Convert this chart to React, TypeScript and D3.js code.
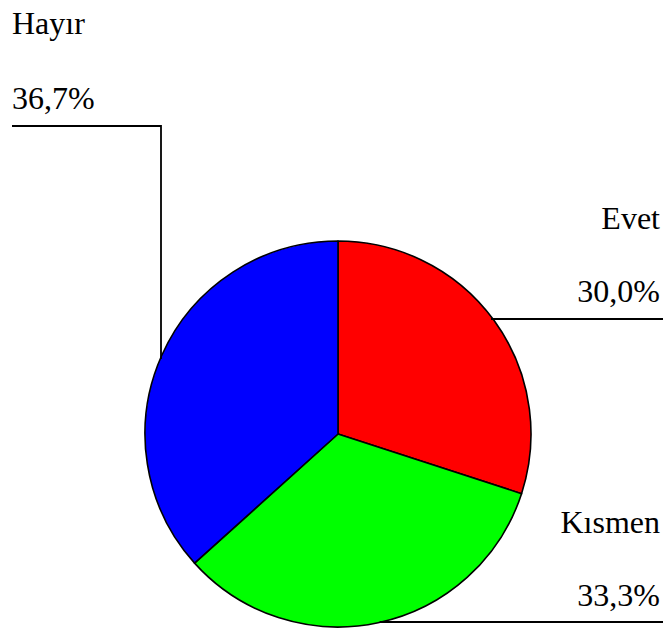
import React, { useEffect, useRef } from "react";
import * as d3 from "d3";

// answers and counts (n = 30)
const categories = ["Evet", "Kısmen", "Hayır"];
const counts = [9, 10, 11];
const colors = ["#FF0000", "#00FF00", "#0000FF"];

// label placement (outside the pie, with leader lines)
const labelLayout = [
  { anchor: "end", textX: 660, labelY: 229, valueY: 302, lineY: 319, lineEnd: 663 },
  { anchor: "end", textX: 660, labelY: 533, valueY: 606, lineY: 622, lineEnd: 663 },
  { anchor: "start", textX: 12, labelY: 34, valueY: 109, lineY: 126, elbowX: 161 },
];

const width = 665;
const height = 628;

const App = () => {
  const ref = useRef<SVGSVGElement | null>(null);

  useEffect(() => {
    const svg = d3.select(ref.current);
    svg.selectAll("*").remove();

    const cx = 338;
    const cy = 434;
    const r = 193;

    const total = d3.sum(counts);
    const trFormat = d3.formatLocale({
      decimal: ",",
      thousands: ".",
      grouping: [3],
      currency: ["₺", ""],
    }).format(".1%");

    const pie = d3.pie<number>().sort(null).startAngle(0).endAngle(2 * Math.PI);
    const arcs = pie(counts);
    const arc = d3.arc<d3.PieArcDatum<number>>().innerRadius(0).outerRadius(r);

    const g = svg.append("g").attr("transform", `translate(${cx},${cy})`);
    g.selectAll("path")
      .data(arcs)
      .join("path")
      .attr("d", arc)
      .attr("fill", (d, i) => colors[i])
      .attr("stroke", "#000")
      .attr("stroke-width", 1.6)
      .attr("stroke-linejoin", "round");

    // point on the rim at a given y (right side) or x (upper side)
    const rimX = (y: number) => {
      const dy = y - cy;
      return cx + Math.sqrt(Math.max(0, r * r - dy * dy));
    };
    const rimY = (x: number) => {
      const dx = x - cx;
      return cy - Math.sqrt(Math.max(0, r * r - dx * dx));
    };

    const labels = svg.append("g")
      .attr("style", "font-family: 'Liberation Serif', 'DejaVu Serif', serif; font-size: 32px;")
      .attr("fill", "#000");

    categories.forEach((name, i) => {
      const L = labelLayout[i];
      labels.append("text")
        .attr("x", L.textX)
        .attr("y", L.labelY)
        .attr("text-anchor", L.anchor)
        .text(name);
      labels.append("text")
        .attr("x", L.textX)
        .attr("y", L.valueY)
        .attr("text-anchor", L.anchor)
        .text(trFormat(counts[i] / total));

      let pts: [number, number][];
      if (L.anchor === "end") {
        pts = [[rimX(L.lineY) - 2, L.lineY], [L.lineEnd!, L.lineY]];
      } else {
        pts = [[L.textX, L.lineY], [L.elbowX!, L.lineY], [L.elbowX!, rimY(L.elbowX!) + 2]];
      }
      svg.append("path")
        .attr("d", d3.line()(pts))
        .attr("fill", "none")
        .attr("stroke", "#000")
        .attr("stroke-width", 1.8);
    });
  }, []);

  return (
    <svg
      ref={ref}
      width={width}
      height={height}
      style={{ position: "absolute", left: 0, top: 0, background: "#fff" }}
    />
  );
};

export default App;
